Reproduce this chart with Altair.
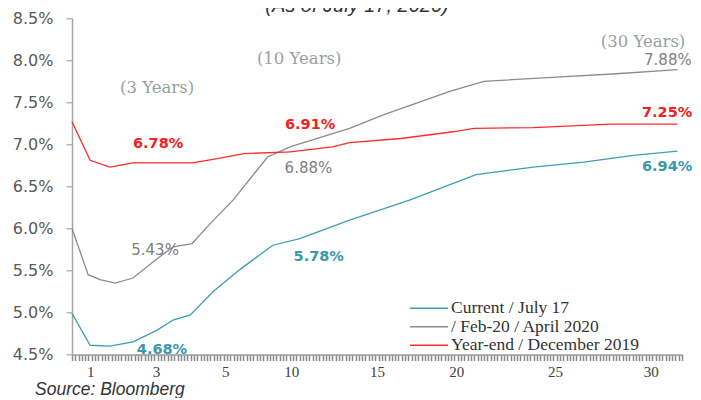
import altair as alt
import pandas as pd
import numpy as np

# ---- series (maturity in years, yield in %) ----
SERIES = ["Current /  July 17", "/ Feb-20 / April 2020", "Year-end / December 2019"]
COLORS = ["#3f9db2", "#8c8c8c", "#ff2a2a"]

CUR_MAT = [0.45, 1.0, 1.6, 2.3, 3.03, 3.49, 3.99, 4.65, 6.1, 8.6, 10.5, 13.4, 17.1, 21.0, 23.9, 26.5, 29.1, 31.4]
CUR_YLD = [4.99, 4.61, 4.60, 4.65, 4.79, 4.91, 4.97, 5.25, 5.51, 5.80, 5.88, 6.10, 6.34, 6.64, 6.73, 6.79, 6.87, 6.92]

FEB_MAT = [0.45, 0.94, 1.30, 1.76, 2.30, 3.03, 3.49, 4.04, 4.57, 5.6, 8.2, 9.9, 13.4, 15.4, 17.5, 19.6, 21.4, 24.4, 28.2, 31.4]
FEB_YLD = [6.00, 5.45, 5.39, 5.35, 5.41, 5.64, 5.78, 5.82, 6.06, 6.34, 6.85, 6.97, 7.19, 7.35, 7.49, 7.63, 7.75, 7.79, 7.84, 7.89]

YE_MAT = [0.45, 1.0, 1.6, 2.3, 4.04, 4.77, 6.4, 9.9, 12.4, 13.4, 16.5, 19.8, 20.9, 23.9, 27.9, 31.4]
YE_YLD = [7.27, 6.81, 6.73, 6.78, 6.78, 6.83, 6.89, 6.91, 6.97, 7.02, 7.07, 7.15, 7.19, 7.20, 7.24, 7.24]

# ---- category-style x axis (maturity -> category position) ----
N_CAT = 185
AXIS_MAT = [0.45, 1, 3, 5, 10, 15, 20, 25, 30, 32]
AXIS_POS = [0, 5.5, 25.5, 46.5, 66.5, 92.5, 116.5, 146.5, 175.5, 187.1]
TICK_LABELS = ["1", "3", "5", "10", "15", "20", "25", "30"]

# ---- annotations ----
BOLD_TEXT = ["6.78%", "6.91%", "7.25%", "6.94%", "5.78%", "4.68%"]
BOLD_MAT = [3.06, 11.1, 30.86, 30.86, 11.6, 3.17]
BOLD_YLD = [7.005, 7.23, 7.373, 6.731, 5.66, 4.553]
BOLD_COLOR = ["#f52020", "#f52020", "#f52020", "#3a98ab", "#3a98ab", "#3a98ab"]

GRAY_TEXT = ["7.88%", "6.88%", "5.43%"]
GRAY_MAT = [30.9, 11.0, 2.97]
GRAY_YLD = [8.004, 6.719, 5.743]

TENOR_TEXT = ["(3 Years)", "(10 Years)", "(30 Years)"]
TENOR_MAT = [3.03, 10.46, 29.6]
TENOR_YLD = [7.67, 8.012, 8.222]

TITLE = "(As of July 17, 2020)"
SOURCE = "Source: Bloomberg"


def to_pos(m):
    return np.interp(np.asarray(m, dtype=float), AXIS_MAT, AXIS_POS)


rows = []
for name, mats, ylds in zip(SERIES, [CUR_MAT, FEB_MAT, YE_MAT], [CUR_YLD, FEB_YLD, YE_YLD]):
    for m, y in zip(mats, ylds):
        rows.append({"series": name, "mat": m, "yld": y})
lines_df = pd.DataFrame(rows)
lines_df["pos"] = to_pos(lines_df["mat"])

bold_df = pd.DataFrame({"text": BOLD_TEXT, "pos": to_pos(BOLD_MAT), "yld": BOLD_YLD, "color": BOLD_COLOR})
gray_df = pd.DataFrame({"text": GRAY_TEXT, "pos": to_pos(GRAY_MAT), "yld": GRAY_YLD})
tenor_df = pd.DataFrame({"text": TENOR_TEXT, "pos": to_pos(TENOR_MAT), "yld": TENOR_YLD})

label_pos = AXIS_POS[1:9]
tick_vals = [float(v) for v in range(0, N_CAT + 1)] + [float(v) for v in label_pos]
label_expr = " : ".join(f"datum.value == {p} ? '{t}'" for p, t in zip(label_pos, TICK_LABELS)) + " : ''"

x_scale = alt.Scale(domain=[0, N_CAT], nice=False, zero=False)
y_scale = alt.Scale(domain=[4.5, 8.5], nice=False, zero=False)

x_axis = alt.Axis(
    values=tick_vals, labelExpr=label_expr, title=None, grid=False,
    labelOverlap=False, labelFlush=False,
    tickOpacity={"condition": {"test": "datum.value % 1 != 0", "value": 0}, "value": 1},
    tickSize=6, tickWidth=1.5, tickColor="#8a8a8a",
    domainColor="#9a9a9a", domainWidth=1.5,
    labelFont="Liberation Serif", labelFontSize=15, labelColor="#404040", labelPadding=4,
)
y_axis = alt.Axis(
    values=[4.5, 5.0, 5.5, 6.0, 6.5, 7.0, 7.5, 8.0, 8.5],
    labelExpr="format(datum.value, '.1f') + '%'", title=None, grid=False,
    tickSize=6, tickWidth=1.2, tickColor="#a6a6a6", domainColor="#a6a6a6", domainWidth=1.5,
    labelFont="DejaVu Sans", labelFontSize=16, labelColor="#595959", labelPadding=13,
)

X = alt.X("pos:Q", scale=x_scale, axis=x_axis)
Y = alt.Y("yld:Q", scale=y_scale, axis=y_axis)

lines = alt.Chart(lines_df).mark_line(strokeWidth=1.3).encode(
    x=X, y=Y,
    color=alt.Color(
        "series:N", sort=SERIES, scale=alt.Scale(domain=SERIES, range=COLORS),
        legend=alt.Legend(
            orient="none", legendX=337, legendY=281, title=None,
            symbolType="stroke", symbolSize=1444, symbolStrokeWidth=1.5,
            labelFont="Liberation Serif", labelFontSize=17.5, labelColor="#333333",
            labelOffset=2, rowPadding=0.5, padding=0, labelLimit=0, clipHeight=18,
        ),
    ),
    order="pos:Q",
)

bold = alt.Chart(bold_df).mark_text(font="DejaVu Sans", fontSize=14.5, fontWeight="bold", baseline="middle").encode(
    x=X, y=Y, text="text:N", color=alt.Color("color:N", scale=None)
)
gray = alt.Chart(gray_df).mark_text(font="DejaVu Sans", fontSize=15, color="#808080", baseline="middle").encode(
    x=X, y=Y, text="text:N"
)
tenor = alt.Chart(tenor_df).mark_text(font="DejaVu Serif", fontSize=16.5, color="#98a0a0", baseline="middle").encode(
    x=X, y=Y, text="text:N"
)

title = alt.Chart(pd.DataFrame({"t": [TITLE]})).mark_text(
    font="Liberation Sans", fontSize=20, fontStyle="italic", color="#333333", align="center", baseline="alphabetic"
).encode(text="t:N", x=alt.value(285), y=alt.value(-6.0))

source = alt.Chart(pd.DataFrame({"t": [SOURCE]})).mark_text(
    font="Liberation Sans", fontSize=17.5, fontStyle="italic", color="#333333", align="left", baseline="alphabetic"
).encode(text="t:N", x=alt.value(-37), y=alt.value(376.5))

chart = alt.layer(lines, bold, gray, tenor, title, source).properties(
    width=610, height=336.2,
    padding={"left": 64, "top": 10.3, "right": 11, "bottom": 43.5},
    autosize=alt.AutoSizeParams(type="none"),
).configure_view(stroke=None)

chart.save("out.html", embed_options={"renderer": "svg", "actions": False})
